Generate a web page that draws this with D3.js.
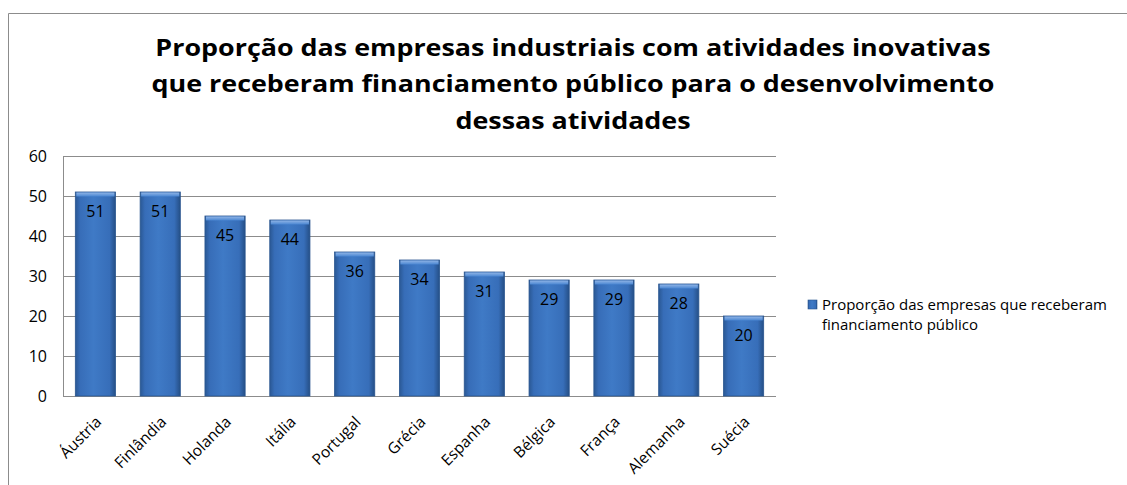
<!DOCTYPE html>
<html>
<head>
<meta charset="utf-8">
<script src="https://cdn.jsdelivr.net/npm/d3@7"></script>
<style>
  html, body { margin: 0; padding: 0; background: #fff; }
  svg { display: block; }
  text { font-family: "Open Sans", "Liberation Sans", sans-serif; fill: #000; }
</style>
</head>
<body>
<svg id="chart" width="1127" height="485"></svg>
<script>
const categories = ["Áustria", "Finlândia", "Holanda", "Itália", "Portugal", "Grécia", "Espanha", "Bélgica", "França", "Alemanha", "Suécia"];
const values = [51, 51, 45, 44, 36, 34, 31, 29, 29, 28, 20];
const yTicks = [0, 10, 20, 30, 40, 50, 60];
const titleLines = [
  "Proporção das empresas industriais com atividades inovativas",
  "que receberam financiamento público para o desenvolvimento",
  "dessas atividades"
];
const seriesName = ["Proporção das empresas que receberam", "financiamento público"];

const FONT = "'Open Sans', 'Liberation Sans', sans-serif";
const svg = d3.select("#chart");
const W = 1127, H = 485;
const plot = { left: 63, top: 156, right: 776, bottom: 396 };

// outer chart frame
svg.append("path")
  .attr("d", `M8.5,${H} V13.5 H${W}`)
  .attr("fill", "none").attr("stroke", "#8c8c8c").attr("stroke-width", 1);

const defs = svg.append("defs");
const g = defs.append("linearGradient").attr("id", "barGrad").attr("x1", 0).attr("x2", 1).attr("y1", 0).attr("y2", 0);
[[0, "#2a5894"], [0.12, "#376db8"], [0.45, "#3f7ac6"], [0.85, "#376eb9"], [1, "#254f86"]]
  .forEach(([o, c]) => g.append("stop").attr("offset", o).attr("stop-color", c));
const gTop = defs.append("linearGradient").attr("id", "capGrad").attr("x1", 0).attr("x2", 0).attr("y1", 0).attr("y2", 1);
[[0, "#8fb4e6"], [1, "#4a86d2"]].forEach(([o, c]) => gTop.append("stop").attr("offset", o).attr("stop-color", c));

const x = d3.scaleBand().domain(categories).range([plot.left, plot.right]).paddingInner(0.38).paddingOuter(0.19);
const y = d3.scaleLinear().domain([0, 60]).range([plot.bottom, plot.top]);

// gridlines
svg.append("g").selectAll("line").data(yTicks).join("line")
  .attr("x1", plot.left).attr("x2", plot.right)
  .attr("y1", d => Math.round(y(d)) + 0.5).attr("y2", d => Math.round(y(d)) + 0.5)
  .attr("stroke", "#8c8c8c").attr("stroke-width", 1);

// y axis line
svg.append("line").attr("x1", plot.left + 0.5).attr("x2", plot.left + 0.5)
  .attr("y1", plot.top).attr("y2", plot.bottom).attr("stroke", "#8c8c8c");

// y axis labels
const yAxis = d3.axisLeft(y).tickValues(yTicks).tickSize(0).tickPadding(16);
const ya = svg.append("g").attr("transform", `translate(${plot.left},0)`).call(yAxis);
ya.select(".domain").remove();
ya.selectAll("text").style("font-family", FONT).style("font-size", "16px").attr("fill", "#000");

// bars
const bars = svg.append("g").selectAll("g").data(values).join("g");
bars.append("rect")
  .attr("x", (d, i) => x(categories[i]))
  .attr("y", d => y(d))
  .attr("width", x.bandwidth())
  .attr("height", d => y(0) - y(d))
  .attr("fill", "url(#barGrad)")
  .attr("stroke", "#2a5690").attr("stroke-width", 0.8);
bars.append("rect")
  .attr("x", (d, i) => x(categories[i]) + 1)
  .attr("y", d => y(d) + 0.5)
  .attr("width", x.bandwidth() - 2)
  .attr("height", 4)
  .attr("fill", "url(#capGrad)");

// value labels
bars.append("text")
  .attr("x", (d, i) => x(categories[i]) + x.bandwidth() / 2)
  .attr("y", d => y(d) + 25)
  .attr("text-anchor", "middle")
  .style("font-size", "16px")
  .text(d => d);

// category labels, rotated
const xa = svg.append("g").attr("transform", `translate(0,${plot.bottom})`)
  .call(d3.axisBottom(x).tickSize(0).tickPadding(0));
xa.select(".domain").remove();
xa.selectAll("text")
  .style("font-family", FONT)
  .style("font-size", "15.5px")
  .attr("fill", "#000")
  .attr("text-anchor", "end")
  .attr("dy", null)
  .attr("transform", "translate(7,27) rotate(-45)");

// title, slightly widened
svg.append("g").attr("transform", "translate(573,0) scale(1.12,1)")
  .append("text")
  .attr("x", 0).attr("y", 56)
  .attr("text-anchor", "middle")
  .style("font-size", "24px").style("font-weight", "bold")
  .selectAll("tspan").data(titleLines).join("tspan")
  .attr("x", 0).attr("dy", (d, i) => i === 0 ? 0 : 36.5)
  .text(d => d);

// legend
const lg = svg.append("g").attr("transform", "translate(808,300)");
lg.append("rect").attr("x", 0).attr("y", 0).attr("width", 9).attr("height", 9)
  .attr("fill", "url(#barGrad)").attr("stroke", "#2a5690").attr("stroke-width", 0.6);
lg.append("text").attr("x", 14).attr("y", 10)
  .style("font-size", "15px")
  .selectAll("tspan").data(seriesName).join("tspan")
  .attr("x", 14).attr("dy", (d, i) => i === 0 ? 0 : 20)
  .text(d => d);
</script>
</body>
</html>
